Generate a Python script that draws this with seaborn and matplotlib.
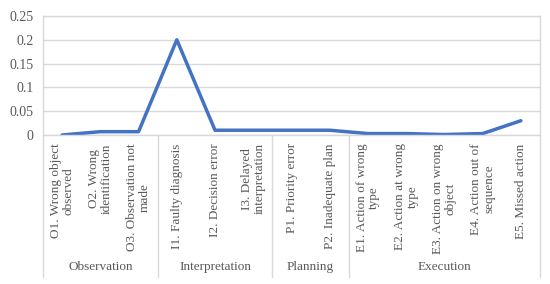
import numpy as np
import pandas as pd
import matplotlib
matplotlib.use('Agg')
import matplotlib.pyplot as plt
import seaborn as sns

# data
categories = ['O1. Wrong object\nobserved', 'O2. Wrong\nidentification', 'O3. Observation not\nmade',
              'I1. Faulty diagnosis', 'I2. Decision error', 'I3. Delayed\ninterpretation',
              'P1. Priority error', 'P2. Inadequate plan',
              'E1. Action of wrong\ntype', 'E2. Action at wrong\ntype', 'E3. Action on wrong\nobject',
              'E4. Action out of\nsequence', 'E5. Missed action']
values = [0.0, 0.007, 0.007, 0.2, 0.01, 0.01, 0.01, 0.01, 0.003, 0.003, 0.001, 0.003, 0.03]
groups = ['Observation', 'Interpretation', 'Planning', 'Execution']
group_sizes = [3, 3, 2, 5]
yticks = [0, 0.05, 0.1, 0.15, 0.2, 0.25]
ytick_labels = ['0', '0.05', '0.1', '0.15', '0.2', '0.25']

sns.set_style('white')
plt.rcParams['font.family'] = ['Liberation Serif', 'DejaVu Serif']
text_color = '#595959'
border = '#D9D9D9'

df = pd.DataFrame({'pos': np.arange(len(categories)), 'value': values})

fig = plt.figure(figsize=(5.5, 2.84), dpi=100)
ax = fig.add_axes([43 / 550, 149 / 284, 497 / 550, 119 / 284])

sns.lineplot(data=df, x='pos', y='value', ax=ax, color='#4472C4', linewidth=2.5)

ax.set_xlim(-0.5, len(categories) - 0.5)
ax.set_ylim(0, 0.25)
ax.set_yticks(yticks)
ax.set_yticklabels(ytick_labels, fontsize=10, color=text_color)
ax.set_xticks(df['pos'])
ax.set_xticklabels(categories, rotation=90, fontsize=9.5, color=text_color,
                   va='top', ha='center', multialignment='center', linespacing=1.1)
ax.tick_params(axis='both', length=0)
ax.tick_params(axis='x', pad=6)
ax.tick_params(axis='y', pad=7)
ax.set_xlabel('')
ax.set_ylabel('')
ax.grid(axis='y', color=border, linewidth=1)
for s in ax.spines.values():
    s.set_color(border)
    s.set_linewidth(1)

# group dividers and group labels under the axis
trans = ax.get_xaxis_transform()
bottom = -1.19
edges = np.concatenate([[0], np.cumsum(group_sizes)]) - 0.5
for e in edges:
    ax.plot([e, e], [0, bottom], transform=trans, color=border, linewidth=1, clip_on=False)
for g, a, b in zip(groups, edges[:-1], edges[1:]):
    ax.text((a + b) / 2, -1.11, g, transform=trans, ha='center', va='center',
            fontsize=9.5, color=text_color)

fig.savefig('out.png', dpi=100)
